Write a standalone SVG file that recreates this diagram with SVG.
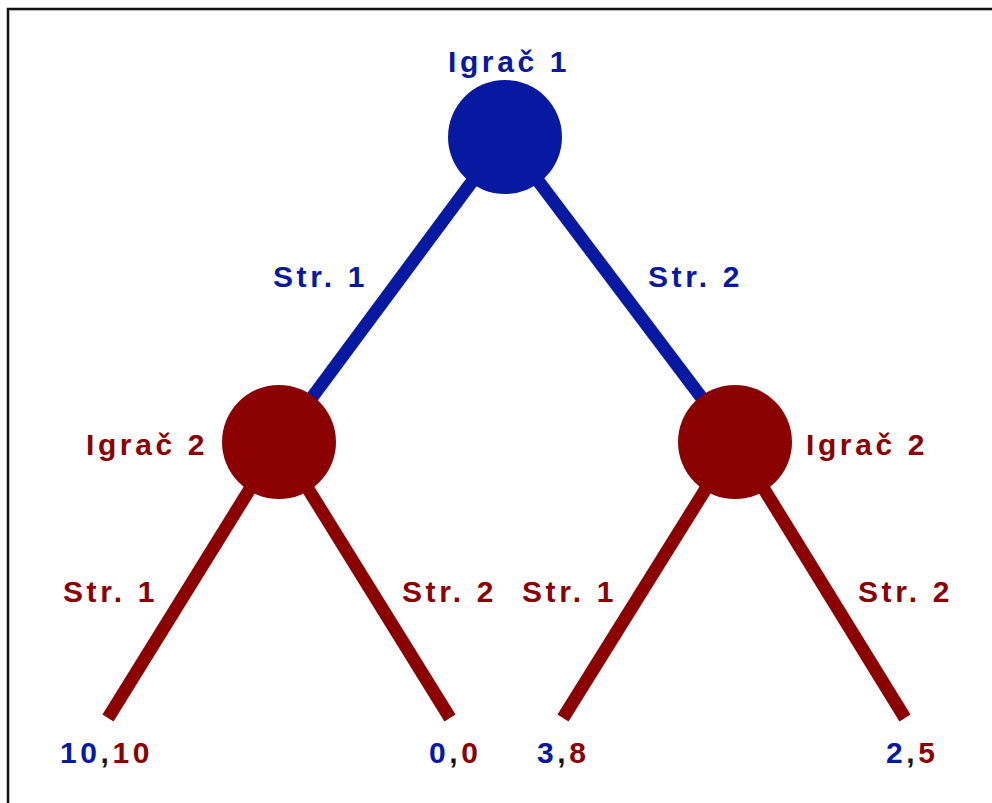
<svg xmlns="http://www.w3.org/2000/svg" width="992" height="803" viewBox="0 0 992 803">
<style>
text{font-family:"Liberation Sans",Arial,sans-serif;font-weight:bold;font-size:30px;letter-spacing:3.6px}
.b{fill:#0719A0}
.r{fill:#8B0000}
.k{fill:#111}
.eb{stroke:#0719A0;stroke-width:13;fill:none}
.er{stroke:#8B0000;stroke-width:13;fill:none}
</style>
<rect width="992" height="803" fill="#fff"/>
<path d="M8,803 V9 H992" fill="none" stroke="#111" stroke-width="2.5"/>
<path d="M9.5,803 V10.5 H992" fill="none" stroke="#bbb" stroke-width="1"/>
<g id="connectors">
<line class="eb" x1="505" y1="137" x2="279" y2="442"/>
<line class="eb" x1="505" y1="137" x2="735" y2="442"/>
<line class="er" x1="279" y1="442" x2="108" y2="718"/>
<line class="er" x1="279" y1="442" x2="450" y2="718"/>
<line class="er" x1="735" y1="442" x2="563" y2="718"/>
<line class="er" x1="735" y1="442" x2="905" y2="718"/>
<text class="b" x="273" y="287">Str. 1</text>
<text class="b" x="648" y="287">Str. 2</text>
<text class="r" x="63" y="602">Str. 1</text>
<text class="r" x="402" y="602">Str. 2</text>
<text class="r" x="522" y="602">Str. 1</text>
<text class="r" x="858" y="602">Str. 2</text>
</g>
<g id="player1">
<circle cx="505" cy="137" r="57" fill="#0719A0"/>
<text class="b" x="448" y="72">Igrač 1</text>
</g>
<g id="player2-left">
<circle cx="279" cy="442" r="57" fill="#8B0000"/>
<text class="r" x="86" y="455">Igrač 2</text>
</g>
<g id="player2-right">
<circle cx="735" cy="442" r="57" fill="#8B0000"/>
<text class="r" x="806" y="455">Igrač 2</text>
</g>
<g id="payoff1"><text x="60" y="763"><tspan class="b">10</tspan><tspan class="k">,</tspan><tspan class="r">10</tspan></text></g>
<g id="payoff2"><text x="429" y="763"><tspan class="b">0</tspan><tspan class="k">,</tspan><tspan class="r">0</tspan></text></g>
<g id="payoff3"><text x="537" y="763"><tspan class="b">3</tspan><tspan class="k">,</tspan><tspan class="r">8</tspan></text></g>
<g id="payoff4"><text x="886" y="763"><tspan class="b">2</tspan><tspan class="k">,</tspan><tspan class="r">5</tspan></text></g>
</svg>
